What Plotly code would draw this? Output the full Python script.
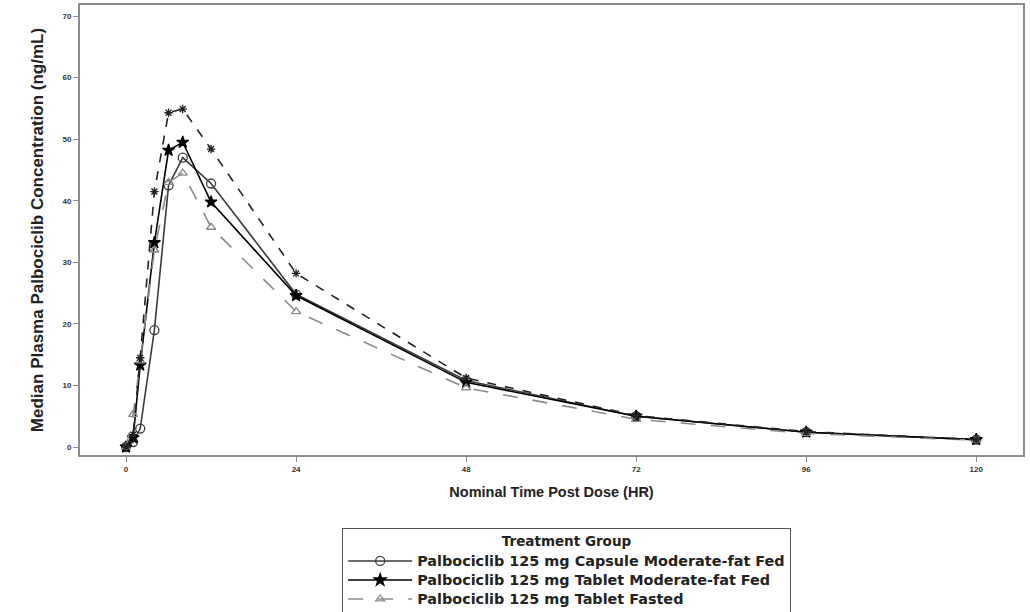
import plotly.graph_objects as go

time_hr = [0, 1, 2, 4, 6, 8, 12, 24, 48, 72, 96, 120]

capsule_mod_fed = [0.0, 0.8, 3.0, 19.0, 42.5, 47.0, 42.8, 24.8, 10.8, 5.0, 2.4, 1.2]
tablet_mod_fed = [0.0, 1.5, 13.3, 33.2, 48.2, 49.5, 39.8, 24.6, 10.5, 5.0, 2.4, 1.2]
tablet_fasted = [0.0, 5.3, 14.0, 32.0, 43.0, 44.5, 35.7, 22.0, 9.6, 4.5, 2.2, 1.1]
tablet_high_fed = [0.0, 2.0, 14.5, 41.5, 54.3, 54.9, 48.4, 28.2, 11.2, 5.1, 2.5, 1.2]

series_names = [
    "Palbociclib 125 mg Capsule Moderate-fat Fed",
    "Palbociclib 125 mg Tablet Moderate-fat Fed",
    "Palbociclib 125 mg Tablet Fasted",
    "Palbociclib 125 mg Tablet High-fat Fed",
]
x_ticks = [0, 24, 48, 72, 96, 120]
y_ticks = [0, 10, 20, 30, 40, 50, 60, 70]

FONT = "Liberation Sans, Arial, sans-serif"
LEG_FONT = "DejaVu Sans, sans-serif"

fig = go.Figure()
styles = [
    (capsule_mod_fed, "#3a3a3a", "solid", "circle-open", 9),
    (tablet_mod_fed, "#000000", "solid", "star", 9),
    (tablet_fasted, "#8a8a8a", "longdash", "triangle-up-open", 8),
    (tablet_high_fed, "#222222", "dash", "asterisk-open", 7),
]
for name, (vals, col, dash, sym, size) in zip(series_names, styles):
    fig.add_trace(go.Scatter(
        x=time_hr, y=vals, mode="lines+markers",
        name="<span style='font-size:14.4px'>" + name + "</span>",
        line=dict(color=col, width=1.6, dash=dash),
        marker=dict(symbol=sym, size=size, color=col,
                    line=dict(color=col, width=1.3)),
    ))

fig.update_layout(
    width=1030, height=612,
    margin=dict(l=80, r=7, t=5, b=157, autoexpand=False),
    paper_bgcolor="white", plot_bgcolor="white",
    font=dict(family=FONT, color="#222"),
    showlegend=True,
    legend=dict(
        x=0.278, y=-0.162, xanchor="left", yanchor="top",
        bordercolor="#555", borderwidth=1, bgcolor="white",
        font=dict(family=LEG_FONT, size=12, color="#222", weight="bold"),
        title=dict(text="Treatment Group", side="top center",
                   font=dict(family=LEG_FONT, size=13.5, color="#222", weight="bold")),
        itemwidth=64, tracegroupgap=0,
    ),
    xaxis=dict(
        range=[-6.5, 126.6], tickvals=x_ticks, ticktext=[str(v) for v in x_ticks],
        showgrid=False, zeroline=False,
        showline=True, linecolor="#8c8c8c", linewidth=2, mirror=True,
        ticks="outside", ticklen=5, tickcolor="#8c8c8c", tickwidth=1,
        tickfont=dict(size=8, color="#333", weight="bold"),
        title=dict(text="Nominal Time Post Dose (HR)", standoff=14,
                   font=dict(size=14.5, color="#222", weight="bold")),
    ),
    yaxis=dict(
        range=[-1.3, 71.8], tickvals=y_ticks, ticktext=[str(v) for v in y_ticks],
        showgrid=False, zeroline=False,
        showline=True, linecolor="#8c8c8c", linewidth=2, mirror=True,
        ticks="outside", ticklen=5, tickcolor="#8c8c8c", tickwidth=1,
        tickfont=dict(size=8, color="#333", weight="bold"),
        title=dict(text="Median Plasma Palbociclib Concentration (ng/mL)", standoff=15,
                   font=dict(size=17, color="#222", weight="bold")),
    ),
)

fig.write_html("out.html", config={"displayModeBar": False},
               post_script="document.body.style.margin='0';")
